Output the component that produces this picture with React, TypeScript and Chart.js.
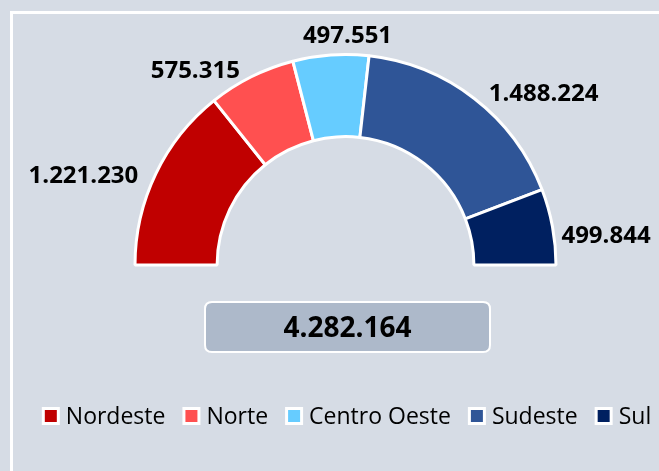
import React, { useEffect, useRef } from "react";
import { Chart, registerables } from "chart.js";

Chart.register(...registerables);

const regions = ["Nordeste", "Norte", "Centro Oeste", "Sudeste", "Sul"];
const population = [1221230, 575315, 497551, 1488224, 499844];
const sliceColors = ["#C00000", "#FF5050", "#66CCFF", "#2F5597", "#002060"];
// small manual label offsets (px) relative to the outside-end position
const labelNudges = [
  [-19, 26],
  [-41, 23],
  [18, -3],
  [41, 31],
  [3, 17],
];

const W = 659;
const H = 471;
const FONT = '"Open Sans", "Noto Sans", "DejaVu Sans", sans-serif';
const BG = "#D6DCE5";

function fmt(n: number): string {
  return String(n).replace(/\B(?=(\d{3})+(?!\d))/g, ".");
}

function roundRect(ctx: CanvasRenderingContext2D, x: number, y: number, w: number, h: number, r: number) {
  ctx.beginPath();
  ctx.moveTo(x + r, y);
  ctx.lineTo(x + w - r, y);
  ctx.quadraticCurveTo(x + w, y, x + w, y + r);
  ctx.lineTo(x + w, y + h - r);
  ctx.quadraticCurveTo(x + w, y + h, x + w - r, y + h);
  ctx.lineTo(x + r, y + h);
  ctx.quadraticCurveTo(x, y + h, x, y + h - r);
  ctx.lineTo(x, y + r);
  ctx.quadraticCurveTo(x, y, x + r, y);
  ctx.closePath();
}

const decorPlugin = {
  id: "decor",
  beforeDraw(chart: any) {
    const ctx: CanvasRenderingContext2D = chart.ctx;
    ctx.save();
    ctx.fillStyle = BG;
    ctx.fillRect(0, 0, chart.width, chart.height);
    ctx.strokeStyle = "#FFFFFF";
    ctx.lineWidth = 3;
    ctx.strokeRect(11.5, 12.5, chart.width + 40, chart.height + 40);
    ctx.restore();
  },
  afterDatasetsDraw(chart: any) {
    const ctx: CanvasRenderingContext2D = chart.ctx;
    const meta = chart.getDatasetMeta(0);
    const values: number[] = chart.data.datasets[0].data;
    ctx.save();

    // data labels
    const fs = 24;
    ctx.font = `bold ${fs}px ${FONT}`;
    ctx.fillStyle = "#000000";
    ctx.textAlign = "center";
    ctx.textBaseline = "alphabetic";
    const cap = 0.714 * fs;
    let cx = 0;
    meta.data.forEach((el: any, i: number) => {
      const p = el.getProps(["x", "y", "startAngle", "endAngle", "outerRadius"], true);
      cx = p.x;
      const mid = (p.startAngle + p.endAngle) / 2;
      const dx = Math.cos(mid);
      const dy = Math.sin(mid);
      const txt = fmt(values[i]);
      const w = ctx.measureText(txt).width;
      const ext = Math.abs(dx) * (w / 2) + Math.abs(dy) * (cap / 2);
      const r = p.outerRadius + 6 + ext;
      const nx = labelNudges[i] ? labelNudges[i][0] : 0;
      const ny = labelNudges[i] ? labelNudges[i][1] : 0;
      const lx = p.x + dx * r + nx;
      const ly = p.y + dy * r + ny;
      ctx.fillText(txt, lx, ly + cap / 2);
    });

    // total box
    const total = values.reduce((a, b) => a + b, 0);
    const bw = 285;
    const bh = 50;
    const bx = cx + 2 - bw / 2;
    const by = 302;
    roundRect(ctx, bx, by, bw, bh, 7);
    ctx.fillStyle = "#ADB9CA";
    ctx.fill();
    ctx.strokeStyle = "#FFFFFF";
    ctx.lineWidth = 2;
    ctx.stroke();
    const tfs = 28;
    ctx.font = `bold ${tfs}px ${FONT}`;
    ctx.fillStyle = "#000000";
    ctx.textAlign = "center";
    ctx.fillText(fmt(total), bx + bw / 2, by + bh / 2 + (0.714 * tfs) / 2);

    // legend
    const lfs = 23;
    ctx.font = `${lfs}px ${FONT}`;
    const box = 18;
    const gapBoxText = 6;
    const gapItems = 17;
    const labels: string[] = chart.data.labels;
    const widths = labels.map((l) => ctx.measureText(l).width);
    const totalW =
      widths.reduce((a, b) => a + b + box + gapBoxText, 0) + gapItems * (labels.length - 1);
    let x = cx + 1 - totalW / 2;
    const ly = 416;
    const colors: string[] = chart.data.datasets[0].backgroundColor;
    ctx.textAlign = "left";
    labels.forEach((l, i) => {
      ctx.fillStyle = "#FFFFFF";
      ctx.fillRect(x, ly - box / 2, box, box);
      ctx.fillStyle = colors[i];
      ctx.fillRect(x + 3, ly - box / 2 + 3, box - 6, box - 6);
      ctx.fillStyle = "#000000";
      ctx.fillText(l, x + box + gapBoxText, ly + (0.714 * lfs) / 2);
      x += box + gapBoxText + widths[i] + gapItems;
    });

    ctx.restore();
  },
};

export default function App() {
  const ref = useRef<HTMLCanvasElement | null>(null);
  useEffect(() => {
    if (!ref.current) return;
    const chart = new Chart(ref.current, {
      type: "doughnut",
      data: {
        labels: regions,
        datasets: [
          {
            data: population,
            backgroundColor: sliceColors,
            borderColor: "#FFFFFF",
            borderWidth: 3,
            hoverOffset: 0,
          },
        ],
      },
      options: {
        responsive: false,
        animation: false,
        rotation: -90,
        circumference: 180,
        cutout: "61%",
        events: [],
        layout: { padding: { left: 133.5, right: 101.5, top: 53, bottom: 204.5 } },
        plugins: { legend: { display: false }, tooltip: { enabled: false } },
      } as any,
      plugins: [decorPlugin],
    });
    return () => chart.destroy();
  }, []);
  return (
    <div style={{ position: "absolute", left: 0, top: 0, width: W, height: H, overflow: "hidden" }}>
      <canvas ref={ref} width={W} height={H} style={{ display: "block", width: W, height: H }} />
    </div>
  );
}
